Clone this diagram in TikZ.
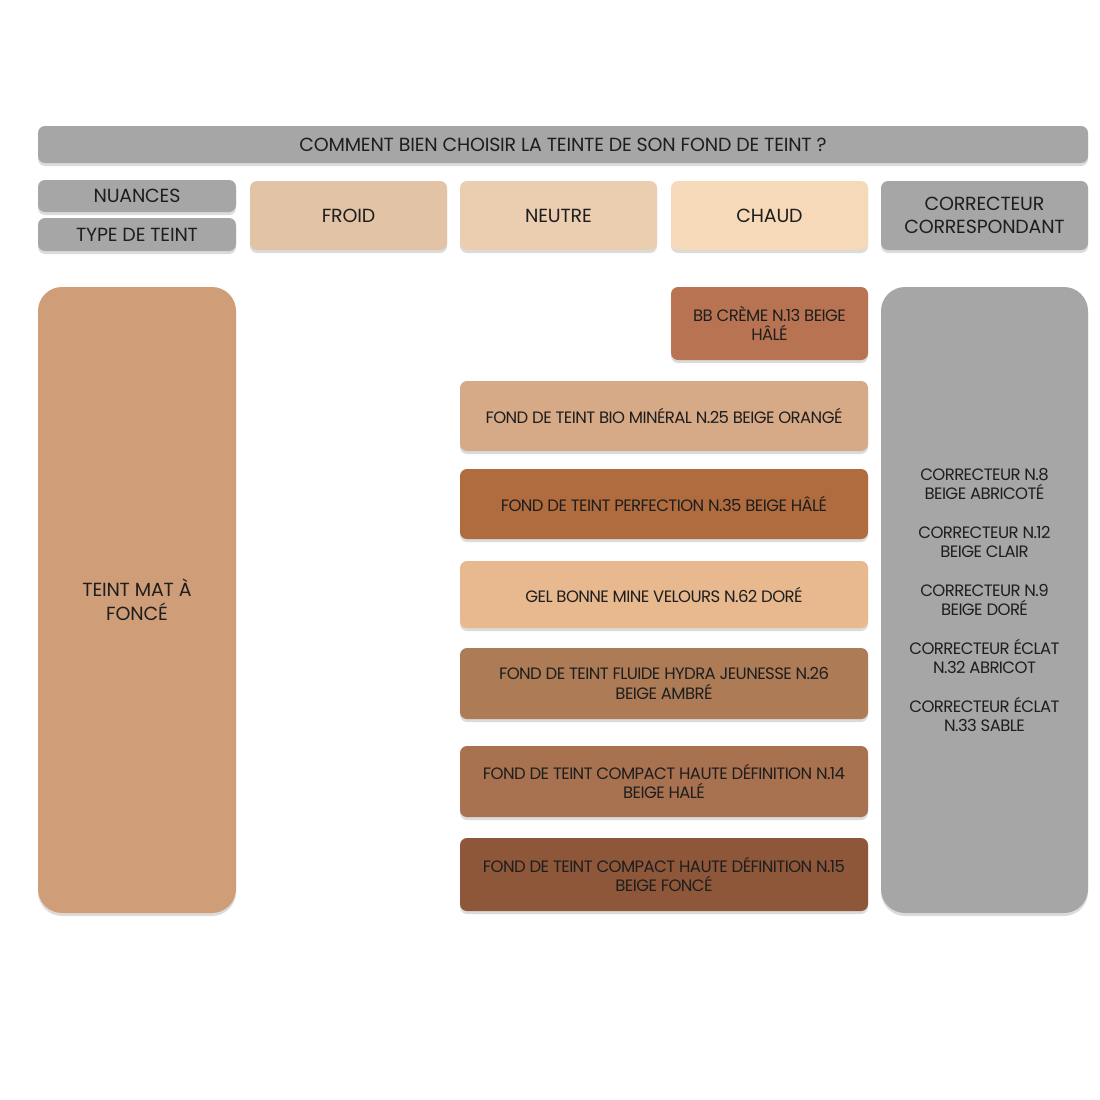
\documentclass[tikz,border=0pt]{standalone}
\usepackage{fontspec}
\setmainfont{Poppins}
\usetikzlibrary{shadows}
\definecolor{hgray}{HTML}{A6A6A6}
\definecolor{txt}{HTML}{1E1E1E}
\definecolor{cfroid}{HTML}{E3C3A5}
\definecolor{cneutre}{HTML}{EBCDB0}
\definecolor{cchaud}{HTML}{F5D9B9}
\definecolor{cmat}{HTML}{CF9E78}
\definecolor{cbb}{HTML}{B87452}
\definecolor{cbio}{HTML}{D6A987}
\definecolor{cperf}{HTML}{B06C3E}
\definecolor{cgel}{HTML}{E8B88E}
\definecolor{chydra}{HTML}{AD7B55}
\definecolor{cc14}{HTML}{A8714F}
\definecolor{cc15}{HTML}{8E573A}
\tikzset{
  cell/.style={rectangle, rounded corners=7pt, inner sep=0pt, align=center, text=txt,
    drop shadow={opacity=0.28, shadow xshift=0pt, shadow yshift=-3pt}},
  big/.style={cell, rounded corners=24pt},
  hfont/.style={font=\fontsize{19}{23.5}\selectfont\addfontfeatures{LetterSpace=-1}},
  sfont/.style={font=\fontsize{16.5}{19.5}\selectfont\addfontfeatures{LetterSpace=-3.5}},
}
\begin{document}
\begin{tikzpicture}[x=1pt,y=-1pt]
\useasboundingbox[fill=white] (0,0) rectangle (1100,1100);
% header
\node[cell, hfont, fill=hgray, minimum width=1050pt, minimum height=37pt] (title) at (563,144.5) {COMMENT BIEN CHOISIR LA TEINTE DE SON FOND DE TEINT ?};
\node[cell, hfont, fill=hgray, minimum width=198pt, minimum height=32pt] (nuances) at (137,196) {NUANCES};
\node[cell, hfont, fill=hgray, minimum width=198pt, minimum height=33pt] (type) at (137,234.5) {TYPE DE TEINT};
\node[cell, hfont, fill=cfroid, minimum width=197pt, minimum height=69pt] (froid) at (348.5,215.5) {FROID};
\node[cell, hfont, fill=cneutre, minimum width=197pt, minimum height=69pt] (neutre) at (558.5,215.5) {NEUTRE};
\node[cell, hfont, fill=cchaud, minimum width=197pt, minimum height=69pt] (chaud) at (769.5,215.5) {CHAUD};
\node[cell, hfont, fill=hgray, minimum width=207pt, minimum height=69pt] (corr) at (984.5,215.5) {CORRECTEUR\\CORRESPONDANT};
% body
\node[big, hfont, fill=cmat, minimum width=198pt, minimum height=626pt] (mat) at (137,600) {TEINT MAT À\\FONCÉ};
\node[big, sfont, fill=hgray, minimum width=207pt, minimum height=626pt] (corrlist) at (984.5,600) {CORRECTEUR N.8\\BEIGE ABRICOTÉ\\[19pt]CORRECTEUR N.12\\BEIGE CLAIR\\[19pt]CORRECTEUR N.9\\BEIGE DORÉ\\[19pt]CORRECTEUR ÉCLAT\\N.32 ABRICOT\\[19pt]CORRECTEUR ÉCLAT\\N.33 SABLE};
\node[cell, sfont, fill=cbb, minimum width=197pt, minimum height=73pt] (bb) at (769.5,323.5) {BB CRÈME N.13 BEIGE\\HÂLÉ};
\node[cell, sfont, fill=cbio, minimum width=408pt, minimum height=70pt] (bio) at (664,416) {FOND DE TEINT BIO MINÉRAL N.25 BEIGE ORANGÉ};
\node[cell, sfont, fill=cperf, minimum width=408pt, minimum height=70pt] (perf) at (664,504) {FOND DE TEINT PERFECTION N.35 BEIGE HÂLÉ};
\node[cell, sfont, fill=cgel, minimum width=408pt, minimum height=67pt] (gel) at (664,594.5) {GEL BONNE MINE VELOURS N.62 DORÉ};
\node[cell, sfont, fill=chydra, minimum width=408pt, minimum height=71pt] (hydra) at (664,683.5) {FOND DE TEINT FLUIDE HYDRA JEUNESSE N.26\\BEIGE AMBRÉ};
\node[cell, sfont, fill=cc14, minimum width=408pt, minimum height=71pt] (c14) at (664,781.5) {FOND DE TEINT COMPACT HAUTE DÉFINITION N.14\\BEIGE HALÉ};
\node[cell, sfont, fill=cc15, minimum width=408pt, minimum height=73pt] (c15) at (664,874.5) {FOND DE TEINT COMPACT HAUTE DÉFINITION N.15\\BEIGE FONCÉ};
\end{tikzpicture}
\end{document}
